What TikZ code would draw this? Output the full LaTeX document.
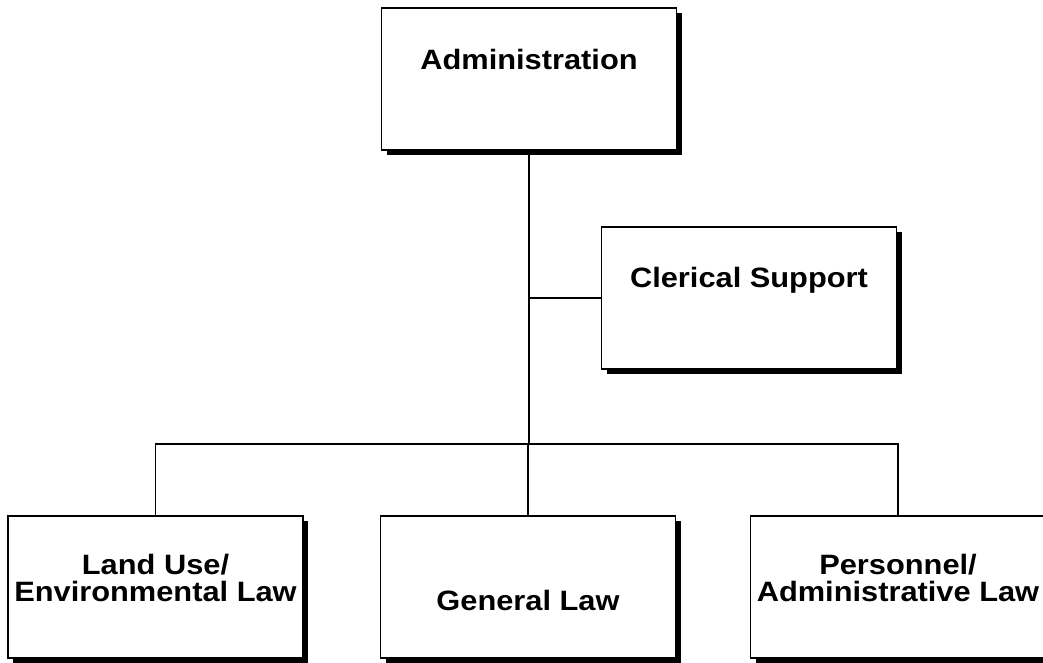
\documentclass[tikz,border=0pt]{standalone}
\usepackage{fontspec}
\setmainfont{Liberation Sans}[FakeStretch=1.1]
\usetikzlibrary{shadows}
\begin{document}
\begin{tikzpicture}[x=1pt, y=-1pt,
	unit/.style={draw, fill=white, line width=1.2pt, minimum width=295pt, minimum height=142pt, inner sep=0pt,
		drop shadow={shadow xshift=5pt, shadow yshift=-5pt, fill=black, opacity=1}},
	title/.style={font=\fontsize{28}{27}\selectfont\bfseries, align=center},
	link/.style={line width=1.3pt}]
	\useasboundingbox (0,0) rectangle (1043,662);
	\coordinate (tap) at (529,298);
	\coordinate (bus) at (529,444);
	\node[unit, label={[title, yshift=20pt]center:Administration}] (admin) at (529,79) {};
	\node[unit, label={[title, yshift=18pt]center:Clerical Support}] (clerk) at (749,298) {};
	\node[unit, label={[title, yshift=8.7pt]center:Land Use/\\Environmental Law}] (land) at (155.5,587) {};
	\node[unit, label={[title, yshift=-13pt]center:General Law}] (general) at (528,587) {};
	\node[unit, label={[title, yshift=8.7pt]center:Personnel/\\Administrative Law}] (personnel) at (898,587) {};
	\draw[link] (admin) -- (bus);
	\draw[link] (tap) -- (clerk);
	\draw[link] (land) |- (bus) -| (personnel);
	\draw[link] (general) |- (bus);
\end{tikzpicture}
\end{document}
